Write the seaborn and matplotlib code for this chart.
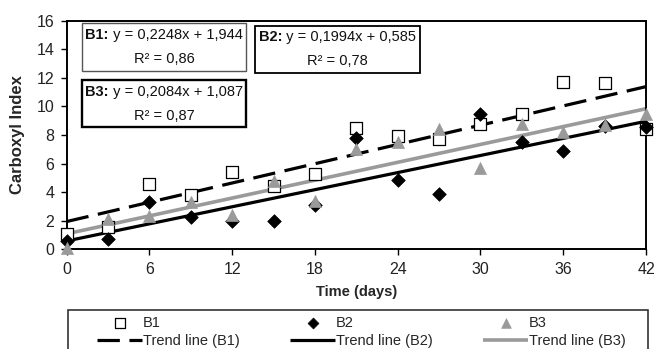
import matplotlib
matplotlib.use("Agg")
import matplotlib.pyplot as plt
from matplotlib.patches import Rectangle
from matplotlib.offsetbox import TextArea, HPacker, VPacker, AnnotationBbox
import seaborn as sns
import numpy as np
import pandas as pd

days = [0, 3, 6, 9, 12, 15, 18, 21, 24, 27, 30, 33, 36, 39, 42]
b1 = [1.1, 1.55, 4.6, 3.8, 5.4, 4.45, 5.3, 8.5, 7.9, 7.7, 8.8, 9.5, 11.7, 11.65, 8.4]
b2 = [0.6, 0.75, 3.3, 2.25, 2.0, 2.0, 3.1, 7.8, 4.85, 3.9, 9.5, 7.5, 6.85, 8.65, 8.55]
b3 = [0.1, 2.1, 2.3, 3.3, 2.4, 4.8, 3.4, 7.0, 7.5, 8.4, 5.7, 8.8, 8.2, 8.7, 9.5]
series = ["B1", "B2", "B3"]
slopes = [0.2248, 0.1994, 0.2084]
intercepts = [1.944, 0.585, 1.087]
r2 = ["0,86", "0,78", "0,87"]
x_ticks = [0, 6, 12, 18, 24, 30, 36, 42]
y_ticks = [0, 2, 4, 6, 8, 10, 12, 14, 16]

sns.set_style("ticks")
plt.rcParams['font.family'] = ['Liberation Sans', 'DejaVu Sans']

W, H = 657, 349
fig = plt.figure(figsize=(6.57, 3.49), dpi=100)
ax = fig.add_axes([66.7 / W, 1 - 249.3 / H, (646 - 66.7) / W, (249.3 - 20.7) / H])

df = pd.DataFrame({"day": days * 3, "value": b1 + b2 + b3,
                   "series": np.repeat(series, len(days))})

line_styles = [dict(color="black", lw=2.3, ls=(0, (7, 3))),
               dict(color="black", lw=2.3, ls="-"),
               dict(color="#9a9a9a", lw=2.6, ls="-")]
xs = np.array([0, 42])
for name, m, c, st in zip(series, slopes, intercepts, line_styles):
    sns.lineplot(x=xs, y=m * xs + c, ax=ax, color=st["color"], lw=st["lw"],
                 ls=st["ls"], label=f"Trend line ({name})", zorder=2,
                 solid_capstyle="butt", dash_capstyle="butt")

marker_styles = [dict(marker="s", s=78, facecolor="white", edgecolor="black", linewidth=0.9),
                 dict(marker="D", s=48, facecolor="black", edgecolor="black", linewidth=0.5),
                 dict(marker="^", s=75, facecolor="#9a9a9a", edgecolor="#9a9a9a", linewidth=0.5)]
for name, st in zip(series, marker_styles):
    sub = df[df.series == name]
    sns.scatterplot(data=sub, x="day", y="value", ax=ax, label=name, zorder=3,
                    clip_on=False, **st)

ax.set_xlim(0, 42)
ax.set_ylim(0, 16)
ax.set_xticks(x_ticks)
ax.set_yticks(y_ticks)
ax.tick_params(labelsize=11.5, labelcolor="#222222", color="black", length=4, width=1, pad=5)
for sp in ax.spines.values():
    sp.set_visible(True)
    sp.set_linewidth(1.4)
    sp.set_color("black")
ax.set_xlabel("Time (days)", fontsize=10.5, fontweight="bold", labelpad=6)
ax.set_ylabel("Carboxyl Index", fontsize=12, fontweight="bold", labelpad=8)

# equation boxes (axes fraction coords)
boxes = [(0.027, 0.780, 0.309, 0.989, "#555555", 1.0),
         (0.325, 0.773, 0.610, 0.978, "black", 1.3),
         (0.027, 0.534, 0.309, 0.739, "black", 1.7)]
for name, m, c, r, (x0, y0, x1, y1, ec, lw) in zip(series, slopes, intercepts, r2, boxes):
    ax.add_patch(Rectangle((x0, y0), x1 - x0, y1 - y0, transform=ax.transAxes,
                           fc="white", ec=ec, lw=lw, zorder=5, clip_on=False))
    ms = f"{m:.4f}".replace(".", ",")
    cs = f"{c:.3f}".replace(".", ",")
    t_bold = TextArea(f"{name}:", textprops=dict(fontsize=10.5, fontweight="bold", color="#111111"))
    t_norm = TextArea(f" y = {ms}x + {cs}", textprops=dict(fontsize=10.5, color="#111111"))
    t_r2 = TextArea(f"R² = {r}", textprops=dict(fontsize=10.5, color="#111111"))
    row1 = HPacker(children=[t_bold, t_norm], align="baseline", pad=0, sep=0)
    pack = VPacker(children=[row1, t_r2], align="center", pad=0, sep=7)
    ab = AnnotationBbox(pack, ((x0 + x1) / 2, (y0 + y1) / 2), xycoords=ax.transAxes,
                        frameon=False, box_alignment=(0.5, 0.5), zorder=6)
    ax.add_artist(ab)

handles, labels = ax.get_legend_handles_labels()
hmap = dict(zip(labels, handles))
if ax.get_legend():
    ax.get_legend().remove()

# legend frame
fig.add_artist(Rectangle((68 / W, 1 - 362 / H), (648 - 68) / W, 52 / H,
                         transform=fig.transFigure, fc="none", ec="#222222", lw=1.1))
col_x = [97, 290, 483]
for name, cx in zip(series, col_x):
    keys = [name, f"Trend line ({name})"]
    fig.legend([hmap[k] for k in keys], keys, loc="upper left",
               bbox_to_anchor=(cx / W, 1 - 316 / H), bbox_transform=fig.transFigure,
               frameon=False, fontsize=10.5, handlelength=3.1, handletextpad=0.05,
               labelspacing=0.25, borderpad=0, borderaxespad=0, markerscale=0.8)

fig.savefig("out.png", dpi=100)
